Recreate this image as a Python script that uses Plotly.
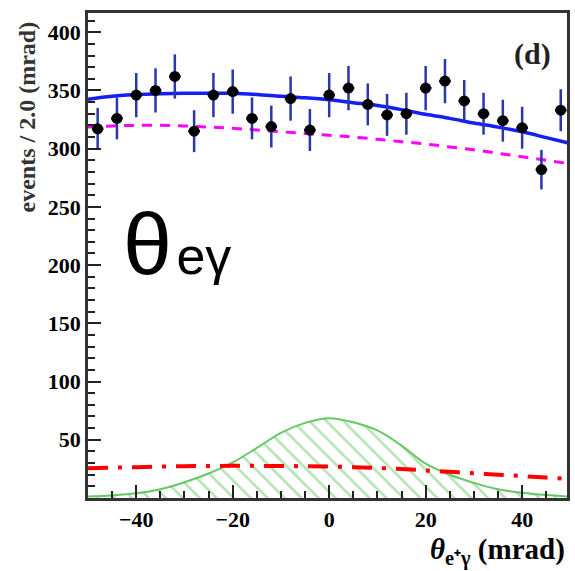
import plotly.graph_objects as go

# data points (theta_e+gamma in mrad)
x_pts = [-48, -44, -40, -36, -32, -28, -24, -20, -16, -12, -8, -4, 0,
         4, 8, 12, 16, 20, 24, 28, 32, 36, 40, 44, 48]
y_pts = [317, 326, 346, 350, 362, 315, 346, 349, 326, 319, 343, 316, 346,
         352, 338, 329, 330, 352, 358, 341, 330, 324, 318, 282, 333]
y_err = [18, 18, 19, 19, 19, 18, 19, 19, 18, 18, 19, 18, 19,
         19, 18, 18, 18, 19, 19, 18, 18, 18, 18, 17, 18]
x_half = [1.2] * len(x_pts)

# fit curves sampled every 5 mrad
x_curve = [-50, -45, -40, -35, -30, -25, -20, -15, -10, -5, 0,
           5, 10, 15, 20, 25, 30, 35, 40, 45, 50]
total_fit = [342.5, 345, 346.5, 347.2, 347.5, 347.6, 347.5, 346.5, 345, 343.7, 342,
             339.5, 337, 333.5, 329.5, 326, 322, 318.5, 314.5, 309.5, 304.5]
accidental = [318.5, 319.5, 320, 320, 319.5, 318.5, 317.5, 316, 314.5, 313, 311.5,
              310, 308, 306, 304, 301.5, 299, 296, 293, 290, 287]
radiative = [25.5, 26, 26.5, 27, 27.3, 27.5, 27.6, 27.6, 27.5, 27.3, 27,
             26.5, 25.8, 24.8, 23.7, 22.5, 21.3, 20, 18.8, 17.5, 16.2]
signal = [1.3, 2.2, 4, 7.5, 13.5, 21, 30.5, 43, 56, 64.5, 68.5,
          65, 58, 45, 29.5, 20, 13, 7.5, 4.5, 2.5, 1.2]

y_ticks = [50, 100, 150, 200, 250, 300, 350, 400]
y_ticklabels = ["50", "100", "150", "200", "250", "300", "350", "400"]
x_ticks = [-40, -20, 0, 20, 40]
x_ticklabels = ["−40", "−20", "0", "20", "40"]

green = "rgb(100,200,100)"

fig = go.Figure()
fig.add_trace(go.Scatter(
    x=x_curve, y=signal, mode="lines", line=dict(color=green, width=2, shape="spline"),
    fill="tozeroy", fillcolor="rgba(0,0,0,0)",
    fillpattern=dict(shape="\\", fgcolor=green, bgcolor="rgba(255,255,255,0)", size=12, solidity=0.22),
    showlegend=False, hoverinfo="skip"))
fig.add_trace(go.Scatter(
    x=x_curve, y=radiative, mode="lines",
    line=dict(color="rgb(255,0,0)", width=4, dash="20px,10px,4px,10px", shape="spline"),
    showlegend=False))
fig.add_trace(go.Scatter(
    x=x_curve, y=accidental, mode="lines",
    line=dict(color="rgb(255,0,255)", width=3, dash="10px,8px", shape="spline"), showlegend=False))
fig.add_trace(go.Scatter(
    x=x_curve, y=total_fit, mode="lines",
    line=dict(color="rgb(20,30,245)", width=3.5, shape="spline"), showlegend=False))
fig.add_trace(go.Scatter(
    x=x_pts, y=y_pts, mode="markers",
    marker=dict(color="black", size=11),
    error_y=dict(type="data", array=y_err, color="rgb(40,55,170)", thickness=2.5, width=0),
    error_x=dict(type="data", array=x_half, color="black", thickness=2.5, width=0),
    showlegend=False))

tickfont = dict(family="Liberation Serif", size=22, color="black")
fig.update_xaxes(range=[-50, 49.3], tickvals=x_ticks,
                 ticktext=["<b>%s</b>" % t for t in x_ticklabels],
                 ticks="inside", ticklen=13, tickwidth=2,
                 tickcolor="#222", showline=True, linecolor="#333", linewidth=2.5, mirror=True,
                 showgrid=False, zeroline=False, tickfont=tickfont,
                 minor=dict(dtick=5, ticks="inside", ticklen=7, tickwidth=2, tickcolor="#222"))
fig.update_yaxes(range=[0, 416.5], tickvals=y_ticks,
                 ticktext=["<b>%s</b>" % t for t in y_ticklabels],
                 ticks="inside", ticklen=13, tickwidth=2,
                 tickcolor="#222", showline=True, linecolor="#333", linewidth=2.5, mirror=True,
                 showgrid=False, zeroline=False, tickfont=tickfont,
                 minor=dict(dtick=10, ticks="inside", ticklen=7, tickwidth=2, tickcolor="#222"))

fig.update_layout(
    width=575, height=571, margin=dict(l=88, r=5, t=13, b=73),
    paper_bgcolor="white", plot_bgcolor="white",
    font=dict(family="Liberation Serif", color="black"),
    annotations=[
        dict(text="<b>(d)</b>", x=0.927, y=0.915, xref="paper", yref="paper",
             xanchor="center", yanchor="middle",
             showarrow=False, font=dict(family="Liberation Serif", size=30, color="#222")),
        dict(text="θ<span style='font-size:16px'> </span><span style='font-size:52px'>eγ</span>",
             x=0.068, y=0.525,
             xref="paper", yref="paper", xanchor="left", yanchor="middle", showarrow=False,
             font=dict(family="Liberation Sans", size=88, color="black")),
        dict(text="<b>events / 2.0 (mrad)</b>", x=-0.127, y=0.785, xref="paper", yref="paper",
             textangle=-90, showarrow=False, xanchor="center", yanchor="middle",
             font=dict(family="Liberation Serif", size=24, color="#333")),
        dict(text="<b><i>θ</i><sub>e⁺γ</sub> (mrad)</b>", x=1.0, y=-0.111, xref="paper", yref="paper",
             xanchor="right", yanchor="middle", showarrow=False,
             font=dict(family="Liberation Serif", size=29, color="black")),
    ],
)

fig.write_html("out.html")
